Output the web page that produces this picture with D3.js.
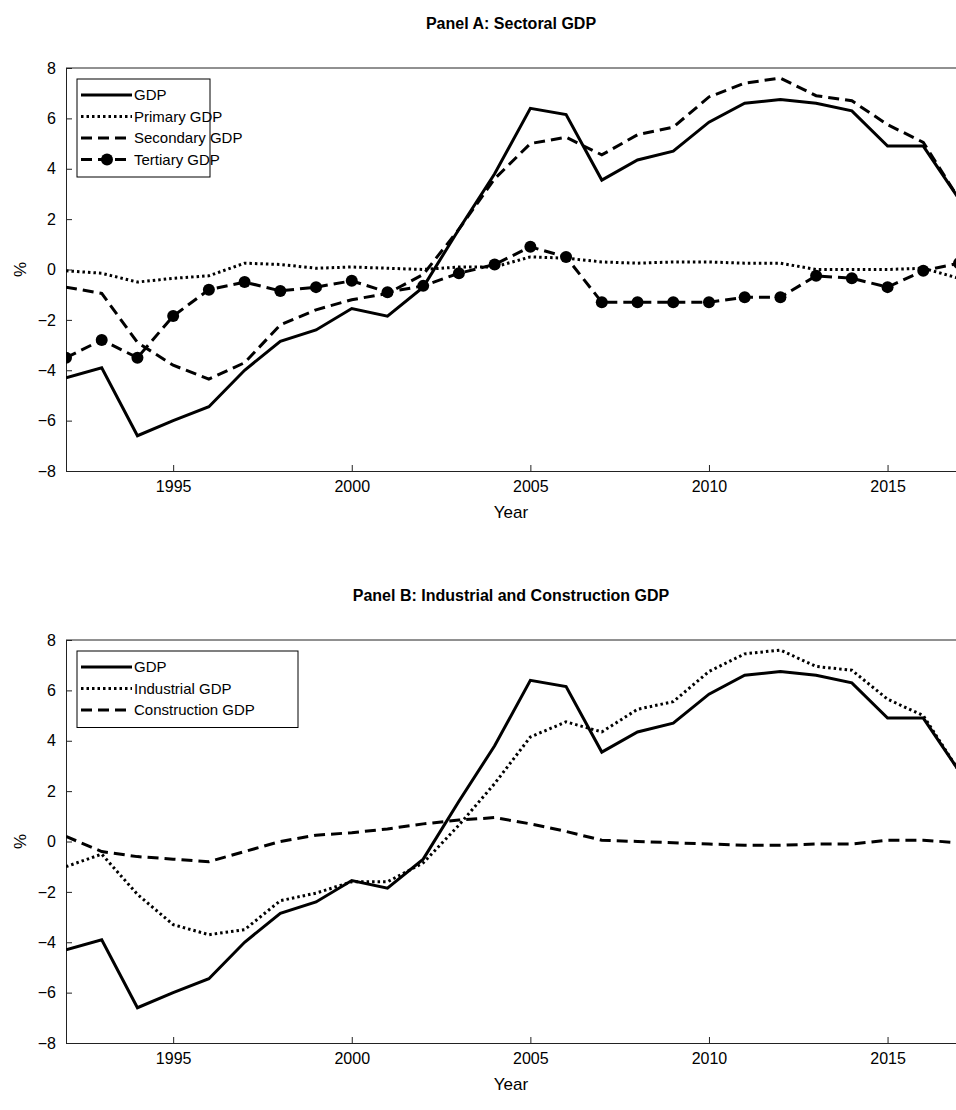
<!DOCTYPE html>
<html><head><meta charset="utf-8">
<script src="https://cdn.jsdelivr.net/npm/d3@7"></script>
<style>body{margin:0;background:#fff;font-family:"Liberation Sans",Arial,sans-serif}
.tick text{font-size:16px;font-family:"Liberation Sans",Arial,sans-serif}</style>
</head><body><div id="chart"></div>
<script>
const years = d3.range(1992, 2018);
const gdp = [-4.3,-3.9,-6.6,-6.0,-5.45,-4.0,-2.85,-2.4,-1.55,-1.85,-0.7,1.6,3.8,6.4,6.15,3.55,4.35,4.7,5.85,6.6,6.75,6.6,6.3,4.9,4.9,2.8];
const primary = [-0.05,-0.15,-0.5,-0.35,-0.25,0.25,0.2,0.05,0.1,0.05,0.0,0.1,0.1,0.5,0.45,0.3,0.25,0.3,0.3,0.25,0.25,0.0,0.0,0.0,0.05,-0.35];
const secondary = [-0.7,-0.95,-2.9,-3.8,-4.35,-3.7,-2.2,-1.6,-1.2,-0.95,-0.2,1.6,3.6,5.0,5.25,4.55,5.35,5.65,6.85,7.4,7.6,6.9,6.7,5.75,5.05,2.8];
const tertiary = [-3.5,-2.8,-3.5,-1.85,-0.8,-0.5,-0.85,-0.7,-0.45,-0.9,-0.65,-0.15,0.2,0.9,0.5,-1.3,-1.3,-1.3,-1.3,-1.1,-1.1,-0.25,-0.35,-0.7,-0.05,0.25];
const industrial = [-1.0,-0.5,-2.1,-3.3,-3.7,-3.5,-2.35,-2.05,-1.6,-1.6,-0.85,0.65,2.3,4.15,4.75,4.35,5.25,5.55,6.75,7.45,7.6,6.95,6.8,5.65,5.0,2.8];
const construction = [0.2,-0.4,-0.6,-0.7,-0.8,-0.4,0.0,0.25,0.35,0.5,0.7,0.85,0.95,0.7,0.4,0.05,0.0,-0.05,-0.1,-0.15,-0.15,-0.1,-0.1,0.05,0.05,-0.05];
const yTicks = [-8,-6,-4,-2,0,2,4,6,8];
const xTicks = [1995,2000,2005,2010,2015];

const svg = d3.select("#chart").append("svg").attr("width",956).attr("height",1110);

const styles = {
  solid: {dash:null},
  dotted: {dash:"2.5,3"},
  dashed: {dash:"11,6"}
};

function panel(title, top, series, legendW) {
  const left = 66, right = 959, plotTop = top + 68, plotBottom = top + 471;
  const x = d3.scaleLinear().domain([1992,2017]).range([left,right]);
  const y = d3.scaleLinear().domain([-8,8]).range([plotBottom,plotTop]);
  const g = svg.append("g");
  g.append("text").attr("x",511).attr("y",top+29).attr("text-anchor","middle")
    .attr("font-weight","bold").attr("font-size",16).text(title);
  const clip = "clip" + top;
  g.append("clipPath").attr("id",clip).append("rect").attr("x",left).attr("y",plotTop).attr("width",right-left).attr("height",plotBottom-plotTop);
  g.append("g").attr("transform",`translate(0,${plotBottom})`)
    .call(d3.axisBottom(x).tickValues(xTicks).tickFormat(d3.format("d")).tickSize(-6).tickPadding(10));
  g.append("g").attr("transform",`translate(${left},0)`)
    .call(d3.axisLeft(y).tickValues(yTicks).tickSize(-6).tickPadding(10));
  g.append("line").attr("x1",left).attr("x2",right).attr("y1",plotTop).attr("y2",plotTop).attr("stroke","#222");
  g.selectAll(".tick line").attr("stroke","#222");
  g.selectAll(".domain").attr("stroke","#222");
  g.append("text").attr("x",511).attr("y",plotBottom+47).attr("text-anchor","middle").attr("font-size",17).text("Year");
  g.append("text").attr("transform",`translate(26,${(plotTop+plotBottom)/2}) rotate(-90)`).attr("text-anchor","middle").attr("font-size",17).text("%");

  const line = d3.line().x((d,i)=>x(years[i])).y(d=>y(d));
  const pg = g.append("g").attr("clip-path",`url(#${clip})`);
  series.forEach(s=>{
    pg.append("path").datum(s.values).attr("d",line).attr("fill","none").attr("stroke","#000")
      .attr("stroke-width",3).attr("stroke-dasharray",styles[s.style].dash);
    if (s.marker) pg.selectAll(null).data(s.values).enter().append("circle")
      .attr("cx",(d,i)=>x(years[i])).attr("cy",d=>y(d)).attr("r",6).attr("fill","#000");
  });

  // legend
  const lx = 77, ly = plotTop + 11, rowH = 21.5;
  g.append("rect").attr("x",lx).attr("y",ly).attr("width",legendW).attr("height",series.length*rowH+12)
    .attr("fill","#fff").attr("stroke","#000");
  series.forEach((s,i)=>{
    const cy = ly + 16 + i*rowH;
    g.append("line").attr("x1",lx+4).attr("x2",lx+55).attr("y1",cy).attr("y2",cy).attr("stroke","#000")
      .attr("stroke-width",3).attr("stroke-dasharray",styles[s.style].dash);
    if (s.marker) g.append("circle").attr("cx",lx+30).attr("cy",cy).attr("r",6);
    g.append("text").attr("x",lx+57).attr("y",cy+5).attr("font-size",15).text(s.name);
  });
}

panel("Panel A: Sectoral GDP", 0, [
  {name:"GDP", values:gdp, style:"solid"},
  {name:"Primary GDP", values:primary, style:"dotted"},
  {name:"Secondary GDP", values:secondary, style:"dashed"},
  {name:"Tertiary GDP", values:tertiary, style:"dashed", marker:true}
], 133);
panel("Panel B: Industrial and Construction GDP", 572, [
  {name:"GDP", values:gdp, style:"solid"},
  {name:"Industrial GDP", values:industrial, style:"dotted"},
  {name:"Construction GDP", values:construction, style:"dashed"}
], 221);
</script></body></html>
